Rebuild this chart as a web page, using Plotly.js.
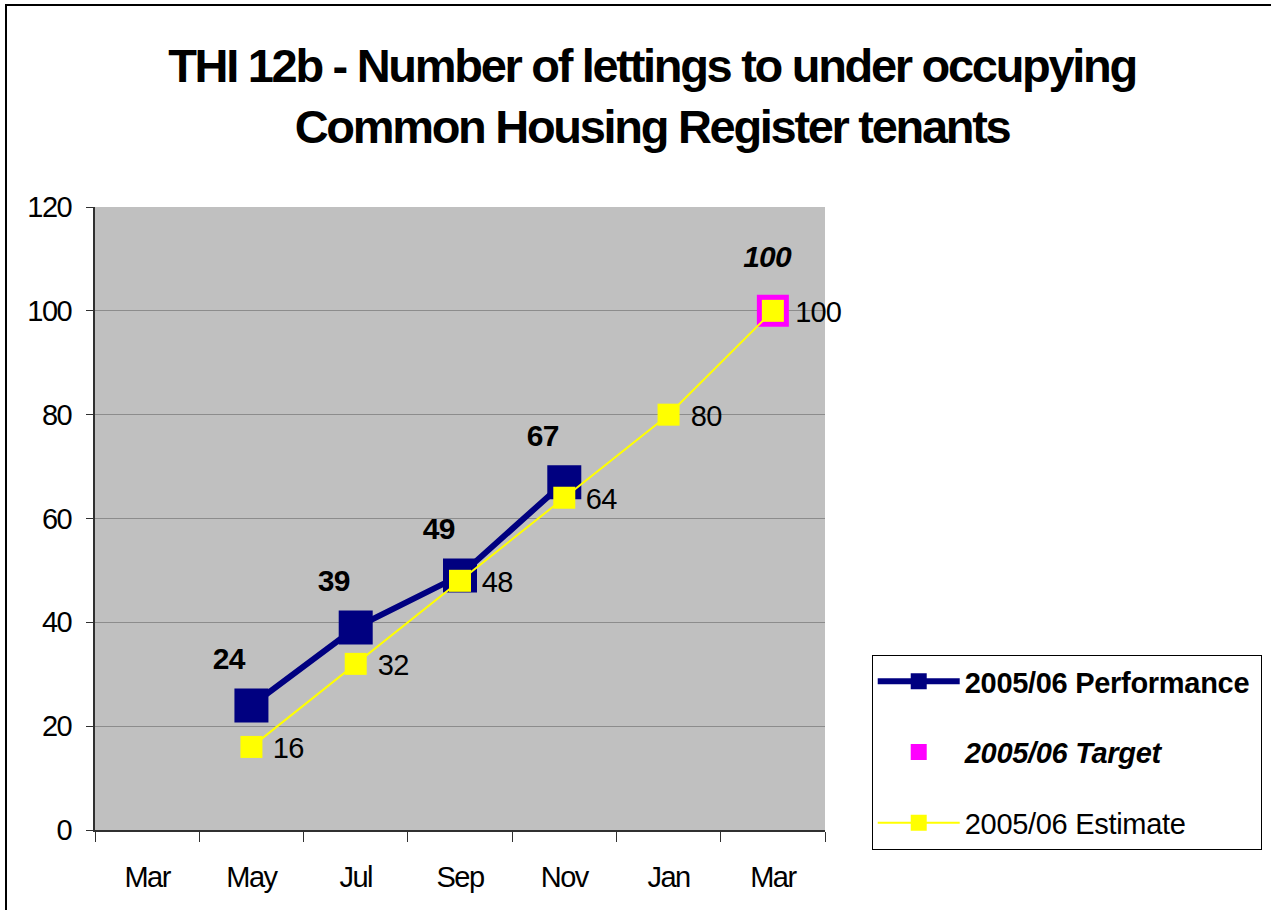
<!DOCTYPE html>
<html>
<head>
<meta charset="utf-8">
<script src="https://cdn.plot.ly/plotly-3.0.1.min.js"></script>
<style>
  html, body { margin: 0; padding: 0; background: #ffffff; }
  #wrap { position: relative; width: 1271px; height: 910px; overflow: hidden; }
  #chart { width: 1271px; height: 910px; }
  #frame { position: absolute; left: 5px; top: 4px; width: 1300px; height: 1000px;
           border-left: 2px solid #000; border-top: 2px solid #000; pointer-events: none; }
  #chart .gtitle { letter-spacing: -2.3px; }
  #chart .xtick text, #chart .ytick text { letter-spacing: -1.5px; }
  #chart .annotation-text { letter-spacing: -0.8px; }
  #chart .legendtext { letter-spacing: -0.3px; }
</style>
</head>
<body>
<div id="wrap">
  <div id="chart"></div>
  <div id="frame"></div>
</div>
<script>
// ---- data ----
const monthKeys   = ['Mar 2005', 'May 2005', 'Jul 2005', 'Sep 2005', 'Nov 2005', 'Jan 2006', 'Mar 2006'];
const monthLabels = ['Mar', 'May', 'Jul', 'Sep', 'Nov', 'Jan', 'Mar'];

const performanceMonths = ['May 2005', 'Jul 2005', 'Sep 2005', 'Nov 2005'];
const performanceValues = [24, 39, 49, 67];

const targetMonths = ['Mar 2006'];
const targetValues = [100];

const estimateMonths = ['May 2005', 'Jul 2005', 'Sep 2005', 'Nov 2005', 'Jan 2006', 'Mar 2006'];
const estimateValues = [16, 32, 48, 64, 80, 100];

const yTicks = [0, 20, 40, 60, 80, 100, 120];

// ---- styles ----
const FONT = 'Liberation Sans, Arial, sans-serif';

const traces = [
  {
    name: '<b>2005/06 Performance</b>',
    x: performanceMonths, y: performanceValues,
    type: 'scatter', mode: 'lines+markers',
    line: { color: '#000080', width: 6 },
    marker: { symbol: 'square', size: 34, color: '#000080' },
    legendgroup: 'a', hoverinfo: 'x+y'
  },
  {
    name: '<b><i>2005/06 Target</i></b>',
    x: targetMonths, y: targetValues,
    type: 'scatter', mode: 'markers',
    marker: { symbol: 'square', size: 32, color: '#FF00FF' },
    legendgroup: 'b', hoverinfo: 'x+y'
  },
  {
    name: '2005/06 Estimate',
    x: estimateMonths, y: estimateValues,
    type: 'scatter', mode: 'lines+markers',
    line: { color: '#FFFF00', width: 2 },
    marker: { symbol: 'square', size: 22, color: '#FFFF00' },
    legendgroup: 'c', hoverinfo: 'x+y'
  }
];

const annotations = [];
performanceMonths.forEach((m, i) => annotations.push({
  x: m, y: performanceValues[i], xref: 'x', yref: 'y',
  text: '<b>' + performanceValues[i] + '</b>', showarrow: false,
  xshift: -22, yshift: 47, font: { family: FONT, size: 30, color: '#000' }
}));
estimateMonths.forEach((m, i) => annotations.push({
  x: m, y: estimateValues[i], xref: 'x', yref: 'y',
  text: String(estimateValues[i]), showarrow: false, xanchor: 'left',
  xshift: 19, yshift: -1, font: { family: FONT, size: 29, color: '#000' }
}));
targetMonths.forEach((m, i) => annotations.push({
  x: m, y: targetValues[i], xref: 'x', yref: 'y',
  text: '<b><i>' + targetValues[i] + '</i></b>', showarrow: false,
  xshift: -6, yshift: 54, font: { family: FONT, size: 30, color: '#000' }
}));

const layout = {
  width: 1271, height: 910,
  margin: { l: 95, r: 446, t: 207, b: 80, autoexpand: false },
  paper_bgcolor: '#ffffff',
  plot_bgcolor: '#C0C0C0',
  font: { family: FONT, size: 29, color: '#000' },
  title: {
    text: '<b>THI 12b - Number of lettings to under occupying<br>Common Housing Register tenants</b>',
    font: { family: FONT, size: 47, color: '#000' },
    x: 0.513, xanchor: 'center',
    yref: 'container', y: 0.9095, yanchor: 'middle'
  },
  xaxis: {
    type: 'category',
    categoryorder: 'array', categoryarray: monthKeys,
    tickvals: monthKeys, ticktext: monthLabels,
    range: [-0.5, 6.5],
    tickson: 'boundaries',
    ticks: 'outside', ticklen: 10, tickwidth: 1, tickcolor: '#303030',
    showline: true, linecolor: '#303030', linewidth: 2,
    showgrid: false, zeroline: false,
    ticklabelstandoff: 20,
    tickfont: { family: FONT, size: 29, color: '#000' },
    fixedrange: true
  },
  yaxis: {
    range: [0, 120], tickvals: yTicks,
    ticks: 'outside', ticklen: 7, tickwidth: 1, tickcolor: '#303030',
    showline: true, linecolor: '#303030', linewidth: 2,
    showgrid: true, gridcolor: '#8C8C8C', gridwidth: 1,
    zeroline: false,
    ticklabelstandoff: 9,
    tickfont: { family: FONT, size: 29, color: '#000' },
    fixedrange: true
  },
  yaxis2: {
    overlaying: 'y', side: 'right', range: [0, 120],
    showline: true, linecolor: '#8C8C8C', linewidth: 2,
    showticklabels: false, ticks: '', showgrid: false, zeroline: false
  },
  showlegend: true,
  legend: {
    x: 1.064, xanchor: 'left', y: 0.281, yanchor: 'top',
    bordercolor: '#000', borderwidth: 1, bgcolor: '#ffffff',
    font: { family: FONT, size: 29, color: '#000' },
    traceorder: 'grouped', tracegroupgap: 30,
    itemwidth: 82, itemsizing: 'trace'
  },
  annotations: annotations
};

Plotly.newPlot('chart', traces, layout, { displayModeBar: false, staticPlot: true });
</script>
</body>
</html>
